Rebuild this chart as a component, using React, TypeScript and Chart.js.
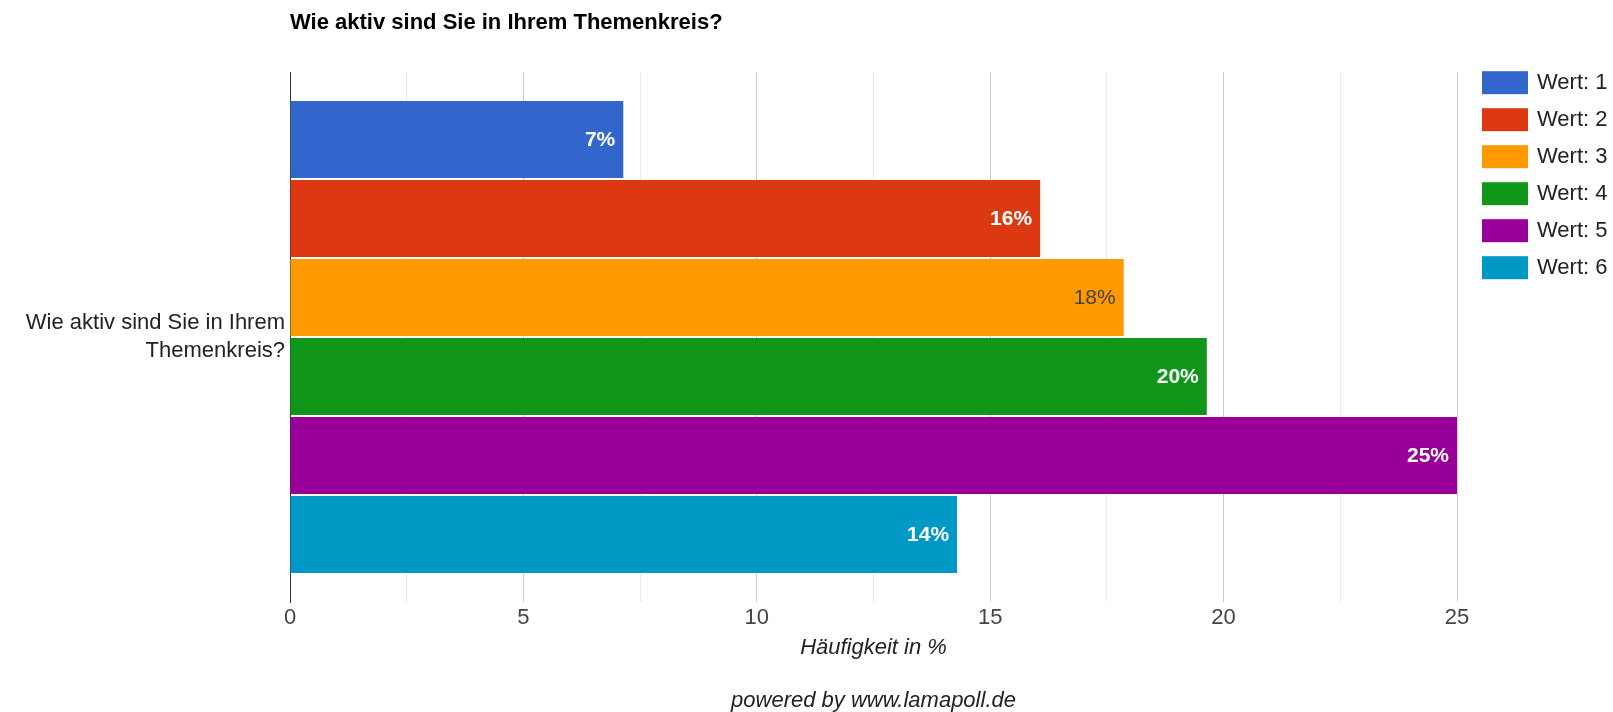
import React, { useEffect, useRef } from "react";
import { Chart, registerables } from "chart.js";

Chart.register(...registerables);

const chartTitle = "Wie aktiv sind Sie in Ihrem Themenkreis?";
const categories = [["Wie aktiv sind Sie in Ihrem", "Themenkreis?"]];
const seriesNames = ["Wert: 1", "Wert: 2", "Wert: 3", "Wert: 4", "Wert: 5", "Wert: 6"];
const seriesValues = [7.14, 16.07, 17.86, 19.64, 25.0, 14.29];
const seriesColors = ["#3366cc", "#dc3912", "#ff9900", "#109618", "#990099", "#0099c6"];
const labelColors = ["#ffffff", "#ffffff", "#444444", "#ffffff", "#ffffff", "#ffffff"];
const xTickValues = [0, 5, 10, 15, 20, 25];
const xAxisTitle = "Häufigkeit in %";
const footerText = "powered by www.lamapoll.de";

const FONT = "Arial, 'Liberation Sans', sans-serif";

export default function App() {
  const ref = useRef<HTMLCanvasElement | null>(null);

  useEffect(() => {
    const canvas = ref.current;
    if (!canvas) return;

    const textPlugin = {
      id: "textPlugin",
      afterDatasetsDraw(chart: any) {
        const ctx = chart.ctx;
        ctx.save();
        chart.data.datasets.forEach((ds: any, i: number) => {
          const meta = chart.getDatasetMeta(i);
          const el = meta.data[0];
          if (!el) return;
          const v = ds.data[0] as number;
          const white = labelColors[i] === "#ffffff";
          ctx.font = `${white ? "bold " : ""}21px ${FONT}`;
          ctx.fillStyle = labelColors[i];
          ctx.textAlign = "right";
          ctx.textBaseline = "middle";
          ctx.fillText(`${Math.round(v)}%`, el.x - 8, el.y + 1);
        });
        ctx.restore();
      },
      afterDraw(chart: any) {
        const ctx = chart.ctx;
        const area = chart.chartArea;
        ctx.save();
        ctx.font = `bold 22px ${FONT}`;
        ctx.fillStyle = "#000000";
        ctx.textAlign = "left";
        ctx.textBaseline = "alphabetic";
        ctx.fillText(chartTitle, area.left, 29);

        const cx = (area.left + area.right) / 2;
        ctx.font = `italic 22px ${FONT}`;
        ctx.fillStyle = "#222222";
        ctx.textAlign = "center";
        ctx.fillText(xAxisTitle, cx, 654);
        ctx.fillText(footerText, cx, 707);

        const boxX = 1482;
        const boxW = 46;
        const boxH = 23;
        const y0 = 82.7;
        const step = 37;
        chart.data.datasets.forEach((ds: any, i: number) => {
          const cy = y0 + i * step;
          ctx.fillStyle = ds.backgroundColor;
          ctx.fillRect(boxX, cy - boxH / 2, boxW, boxH);
          ctx.font = `22px ${FONT}`;
          ctx.fillStyle = "#222222";
          ctx.textAlign = "left";
          ctx.textBaseline = "middle";
          ctx.fillText(ds.label, 1537, cy);
        });
        ctx.restore();
      },
    };

    const chart = new Chart(canvas, {
      type: "bar",
      data: {
        labels: categories as any,
        datasets: seriesNames.map((name, i) => ({
          label: name,
          data: [seriesValues[i]],
          backgroundColor: seriesColors[i],
          borderWidth: 0,
          categoryPercentage: 0.894,
          barPercentage: 0.975,
        })),
      },
      options: {
        indexAxis: "y",
        animation: false,
        responsive: false,
        maintainAspectRatio: false,
        layout: { padding: { top: 72, right: 156, left: 0, bottom: 0 } },
        plugins: {
          legend: { display: false },
          title: { display: false },
          tooltip: { enabled: false },
        },
        scales: {
          x: {
            type: "linear",
            min: 0,
            max: 25,
            afterFit: (scale: any) => {
              scale.height = 110;
            },
            afterBuildTicks: (scale: any) => {
              const t: any[] = [];
              for (let k = 0; k < xTickValues.length; k++) {
                t.push({ value: xTickValues[k] });
                if (k < xTickValues.length - 1) t.push({ value: (xTickValues[k] + xTickValues[k + 1]) / 2 });
              }
              scale.ticks = t;
            },
            ticks: {
              autoSkip: false,
              maxRotation: 0,
              padding: 3,
              color: "#444444",
              font: { size: 22, family: FONT },
              callback: (v: any) => (xTickValues.includes(Number(v)) ? String(v) : ""),
            },
            grid: {
              drawTicks: false,
              color: (c: any) => {
                const v = c.tick ? c.tick.value : 0;
                if (v === 0) return "rgba(0,0,0,0)";
                return v % 5 === 0 ? "#cccccc" : "#ebebeb";
              },
              lineWidth: 1,
            },
            border: { display: false },
          },
          y: {
            type: "category",
            afterFit: (scale: any) => {
              scale.width = 290;
            },
            ticks: {
              color: "#222222",
              padding: 5,
              font: { size: 22, family: FONT, lineHeight: 1.27 },
            },
            grid: { display: false, drawTicks: false },
            border: { display: true, color: "#333333", width: 1 },
          },
        },
      },
      plugins: [textPlugin],
    });

    return () => chart.destroy();
  }, []);

  return (
    <div style={{ position: "fixed", left: 0, top: 0, width: 1613, height: 712, background: "#ffffff" }}>
      <canvas ref={ref} width={1613} height={712} style={{ display: "block", width: 1613, height: 712 }} />
    </div>
  );
}
